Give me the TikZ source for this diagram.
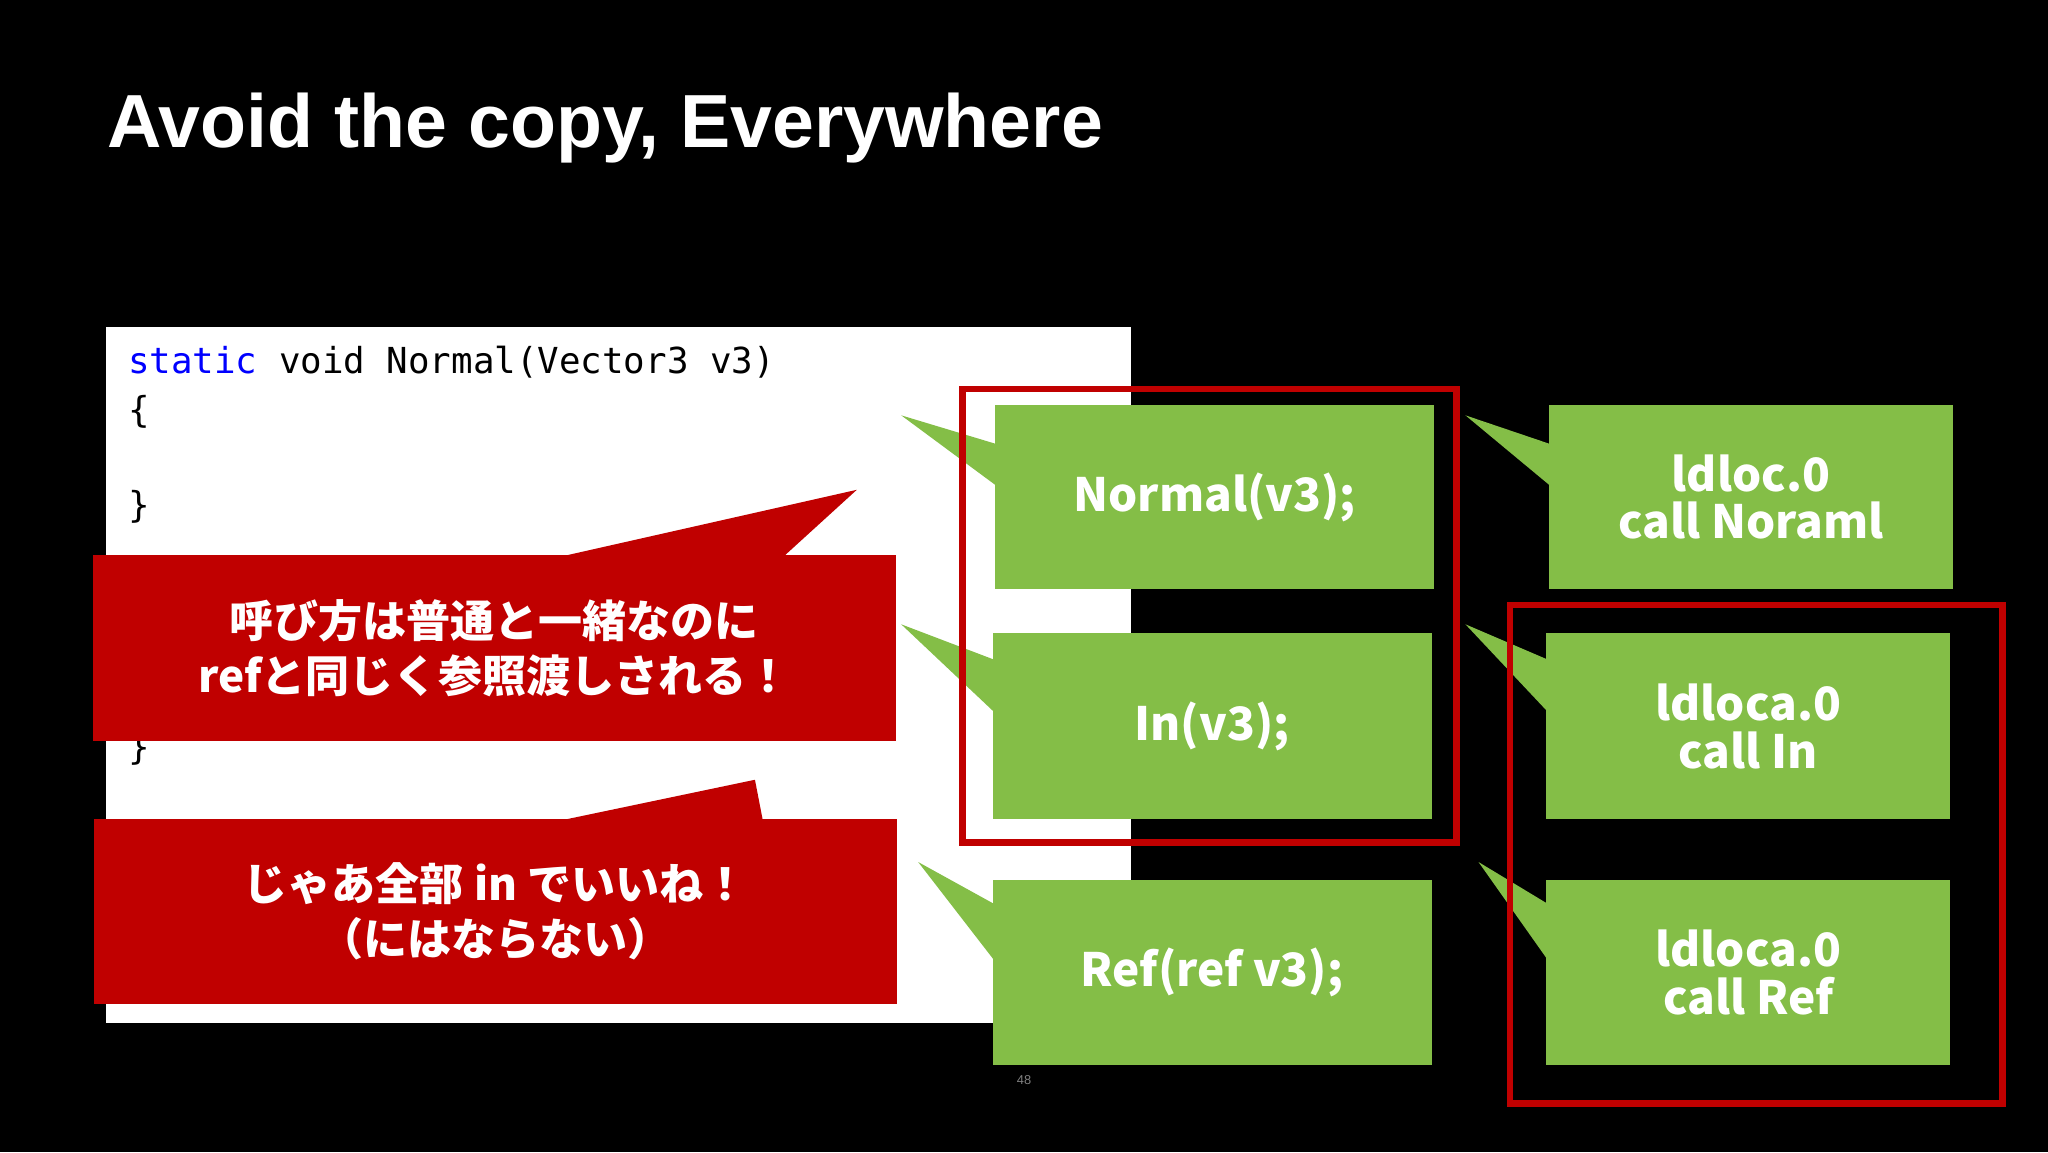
\documentclass[tikz,border=0pt]{standalone}
\usepackage{fontspec}
\setmainfont{Liberation Sans}
\newfontfamily\cjk{Noto Sans CJK JP}
\newfontfamily\codefont{DejaVu Sans Mono}
\definecolor{grn}{HTML}{84BE47}
\definecolor{rd}{HTML}{C00000}
\definecolor{kw}{HTML}{0000FF}
\begin{document}
\begin{tikzpicture}[x=0.05cm,y=-0.05cm,
  gbox/.style={fill=grn,text=white,inner sep=0pt,align=center,font=\cjk\bfseries\fontsize{50}{60}\selectfont},
  rbox/.style={fill=rd,text=white,inner sep=0pt,align=center,font=\cjk\bfseries\fontsize{48}{60}\selectfont},
  code/.style={anchor=west,inner sep=0pt,font=\codefont\fontsize{39}{45}\selectfont},
  frame/.style={draw=rd,line width=7pt}]
\fill[black] (0,0) rectangle (1568,882);
\useasboundingbox (0,0) rectangle (1568,882);
\node[anchor=base west,text=white,inner sep=0pt,font=\bfseries\fontsize{82}{90}\selectfont] (title) at (82,113) {Avoid the copy, Everywhere};
% code panel
\fill[white] (81,250) rectangle (866,783);
\node[code] (c1) at (98,277) {\textcolor{kw}{static} void Normal(Vector3 v3)};
\node[code] (c2) at (98,315) {\{};
\node[code] (c3) at (98,388) {\}};
\node[code] (c4) at (98,573) {\}};
% red callouts
\fill[rd] (430,426) -- (656,375) -- (600,426) -- cycle;
\node[rbox,minimum width=30.75cm,minimum height=7.1cm] (r1) at (378.5,496) {呼び方は普通と一緒なのに\\refと同じく参照渡しされる！};
\fill[rd] (430,628) -- (578,597) -- (584,628) -- cycle;
\node[rbox,minimum width=30.75cm,minimum height=7.1cm] (r2) at (379.5,698) {じゃあ全部 in でいいね！\\（にはならない）};
% green tails
\fill[grn] (690,318) -- (763,340) -- (763,372) -- cycle;
\fill[grn] (690,478) -- (761,505) -- (761,545) -- cycle;
\fill[grn] (703,660) -- (761,692) -- (761,735) -- cycle;
\fill[grn] (1122,318) -- (1187,340) -- (1187,372) -- cycle;
\fill[grn] (1122,478) -- (1185,505) -- (1185,545) -- cycle;
\fill[grn] (1132,660) -- (1185,692) -- (1185,735) -- cycle;
% green boxes
\node[gbox,minimum width=16.8cm,minimum height=7.05cm] (a) at (930,380.5) {Normal(v3);};
\node[gbox,minimum width=16.8cm,minimum height=7.1cm] (b) at (928,556) {In(v3);};
\node[gbox,minimum width=16.8cm,minimum height=7.05cm] (c) at (928,744.5) {Ref(ref v3);};
\node[gbox,minimum width=15.45cm,minimum height=7.05cm] (d) at (1340.5,380.5) {ldloc.0\\[-8pt]call Noraml};
\node[gbox,minimum width=15.45cm,minimum height=7.1cm] (e) at (1338.5,556) {ldloca.0\\[-8pt]call In};
\node[gbox,minimum width=15.45cm,minimum height=7.05cm] (f) at (1338.5,744.5) {ldloca.0\\[-8pt]call Ref};
% red frames
\draw[frame] (737,298) rectangle (1115,645);
\draw[frame] (1156,463) rectangle (1533,845);
\node[text=gray,inner sep=0pt,font=\fontsize{14}{16}\selectfont] (pg) at (784,827) {48};
\end{tikzpicture}
\end{document}
